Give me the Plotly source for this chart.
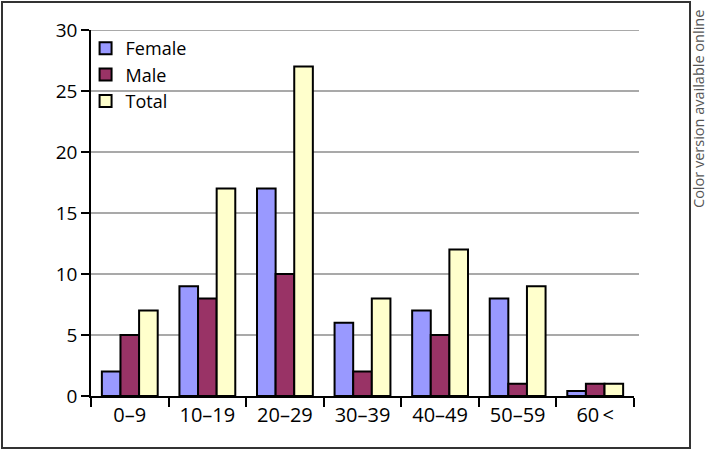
import plotly.graph_objects as go

categories = ["0\u20139", "10\u201319", "20\u201329", "30\u201339", "40\u201349", "50\u201359", "60\u2009<"]
female = [2, 9, 17, 6, 7, 8, 0.4]
male = [5, 8, 10, 2, 5, 1, 1]
total = [7, 17, 27, 8, 12, 9, 1]
y_ticks = [0, 5, 10, 15, 20, 25, 30]

FONT = "Open Sans"
fig = go.Figure()
for name, vals, col in [("Female", female, "#9999FF"), ("Male", male, "#993366"), ("Total", total, "#FFFFCC")]:
    fig.add_trace(go.Bar(x=categories, y=vals, name=name, marker=dict(color=col, line=dict(color="black", width=2))))

L, R, T, B = 91, 75, 30, 55
W, H = 709, 451
pw = W - L - R
ph = H - T - B
ext = (639 - L) / pw

shapes = []
for v in y_ticks[1:]:
    shapes.append(dict(type="line", xref="paper", yref="y", x0=0, x1=ext, y0=v, y1=v,
                       line=dict(color="#8c8c8c", width=1.5), layer="below"))
# outer frame
shapes.append(dict(type="rect", xref="paper", yref="paper",
                   x0=(2 - L) / pw, x1=(690 - L) / pw,
                   y0=-(448 - (H - B)) / ph, y1=1 + (T - 2) / ph,
                   line=dict(color="#333333", width=2)))

fig.update_layout(
    width=W, height=H,
    margin=dict(l=L, r=R, t=T, b=B),
    plot_bgcolor="white", paper_bgcolor="white",
    barmode="group", bargap=0.28, bargroupgap=0,
    font=dict(family=FONT, size=19, color="black"),
    shapes=shapes,
    legend=dict(x=-0.01, y=1.0, xanchor="left", yanchor="top", font=dict(size=18),
                bgcolor="rgba(0,0,0,0)", tracegroupgap=0, itemwidth=30),
    xaxis=dict(type="category", showline=True, linecolor="black", linewidth=1.5,
               ticks="outside", tickson="boundaries", ticklen=9, tickwidth=1.5, tickcolor="black",
               showgrid=False, tickfont=dict(size=20)),
    yaxis=dict(range=[0, 30], tickvals=y_ticks, showline=True, linecolor="black", linewidth=1.5,
               ticks="outside", ticklen=8, tickwidth=1.5, tickcolor="black",
               showgrid=False, zeroline=False, tickfont=dict(size=19)),
    annotations=[dict(text="Color version available online", xref="paper", yref="paper",
                      x=(708.5 - L) / pw, y=1 - (109 - T) / ph, textangle=-90,
                      showarrow=False, font=dict(family=FONT, size=14.5, color="#555555"),
                      xanchor="right", yanchor="middle", borderpad=0)],
)
fig.write_html("out.html", config={"displayModeBar": False},
               post_script="document.body.style.margin='0';document.body.style.overflow='hidden';")
